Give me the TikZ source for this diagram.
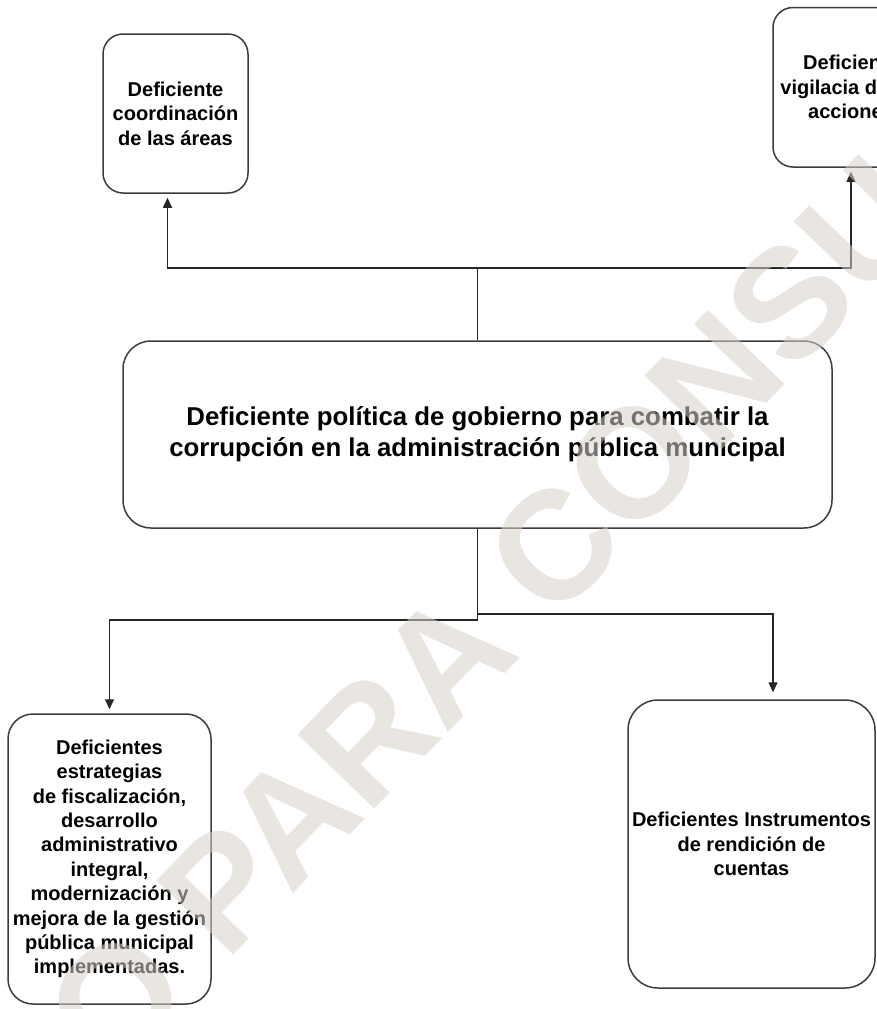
\documentclass[tikz,border=0pt]{standalone}
\usepackage{fontspec}
\setmainfont{Liberation Sans}
\usetikzlibrary{arrows.meta}
\definecolor{wm}{RGB}{215,208,202}
\definecolor{edge}{RGB}{60,60,60}
\begin{document}
\begin{tikzpicture}[x=1pt,y=-1pt,
  box/.style={draw=edge, line width=1.5pt, inner sep=0pt, align=center,
    font=\bfseries\fontsize{20}{24.4}\selectfont},
  conn/.style={draw=black!85, line width=1.3pt},
  arr/.style={conn, -{Triangle[length=10pt,width=9pt]}, shorten >=4pt}]
\useasboundingbox (0,0) rectangle (877,1009);
\clip (0,0) rectangle (877,1009);
\fill[white] (0,0) rectangle (877,1009);

\node[box, rounded corners=20pt, minimum width=145pt, minimum height=159pt] (b1) at (175.5,113.5) {Deficiente\\coordinación\\de las áreas};
\node[box, rounded corners=20pt, minimum width=156pt, minimum height=159.5pt] (b2) at (851,87.25) {Deficiente\\vigilacia de las\\acciones};
\node[box, rounded corners=28pt, minimum width=709pt, minimum height=187pt,
  font=\bfseries\fontsize{25.8}{31}\selectfont] (m) at (477.5,434.5) {Deficiente política de gobierno para combatir la\\corrupción en la administración pública municipal};
\node[box, rounded corners=25pt, minimum width=203pt, minimum height=290pt] (b3) at (109.5,859) {Deficientes\\estrategias\\de fiscalización,\\desarrollo\\administrativo\\integral,\\modernización y\\mejora de la gestión\\pública municipal\\implementadas.};
\node[box, rounded corners=30pt, minimum width=247pt, minimum height=288pt] (b4) at (751.5,844) {Deficientes Instrumentos\\de rendición de\\cuentas};

\coordinate (jt) at (477.5,268);
\coordinate (jl) at (477.5,620);
\coordinate (jr) at (477.5,614);
\draw[conn] (m.north) -- (jt);
\draw[arr] (jt) -| ([xshift=-8pt]b1.south);
\draw[arr] (jt) -| (b2.south);
\draw[conn] (m.south) -- (jl);
\draw[arr] (jl) -| (b3.north);
\draw[arr, shorten >=7pt] (jr) -| ([xshift=21.5pt]b4.north);

\node[font=\bfseries\fontsize{155}{155}\selectfont, text=wm, opacity=0.55, rotate=46, inner sep=0pt] (wmark) at (489,614) {O PARA CONSU};
\end{tikzpicture}
\end{document}
